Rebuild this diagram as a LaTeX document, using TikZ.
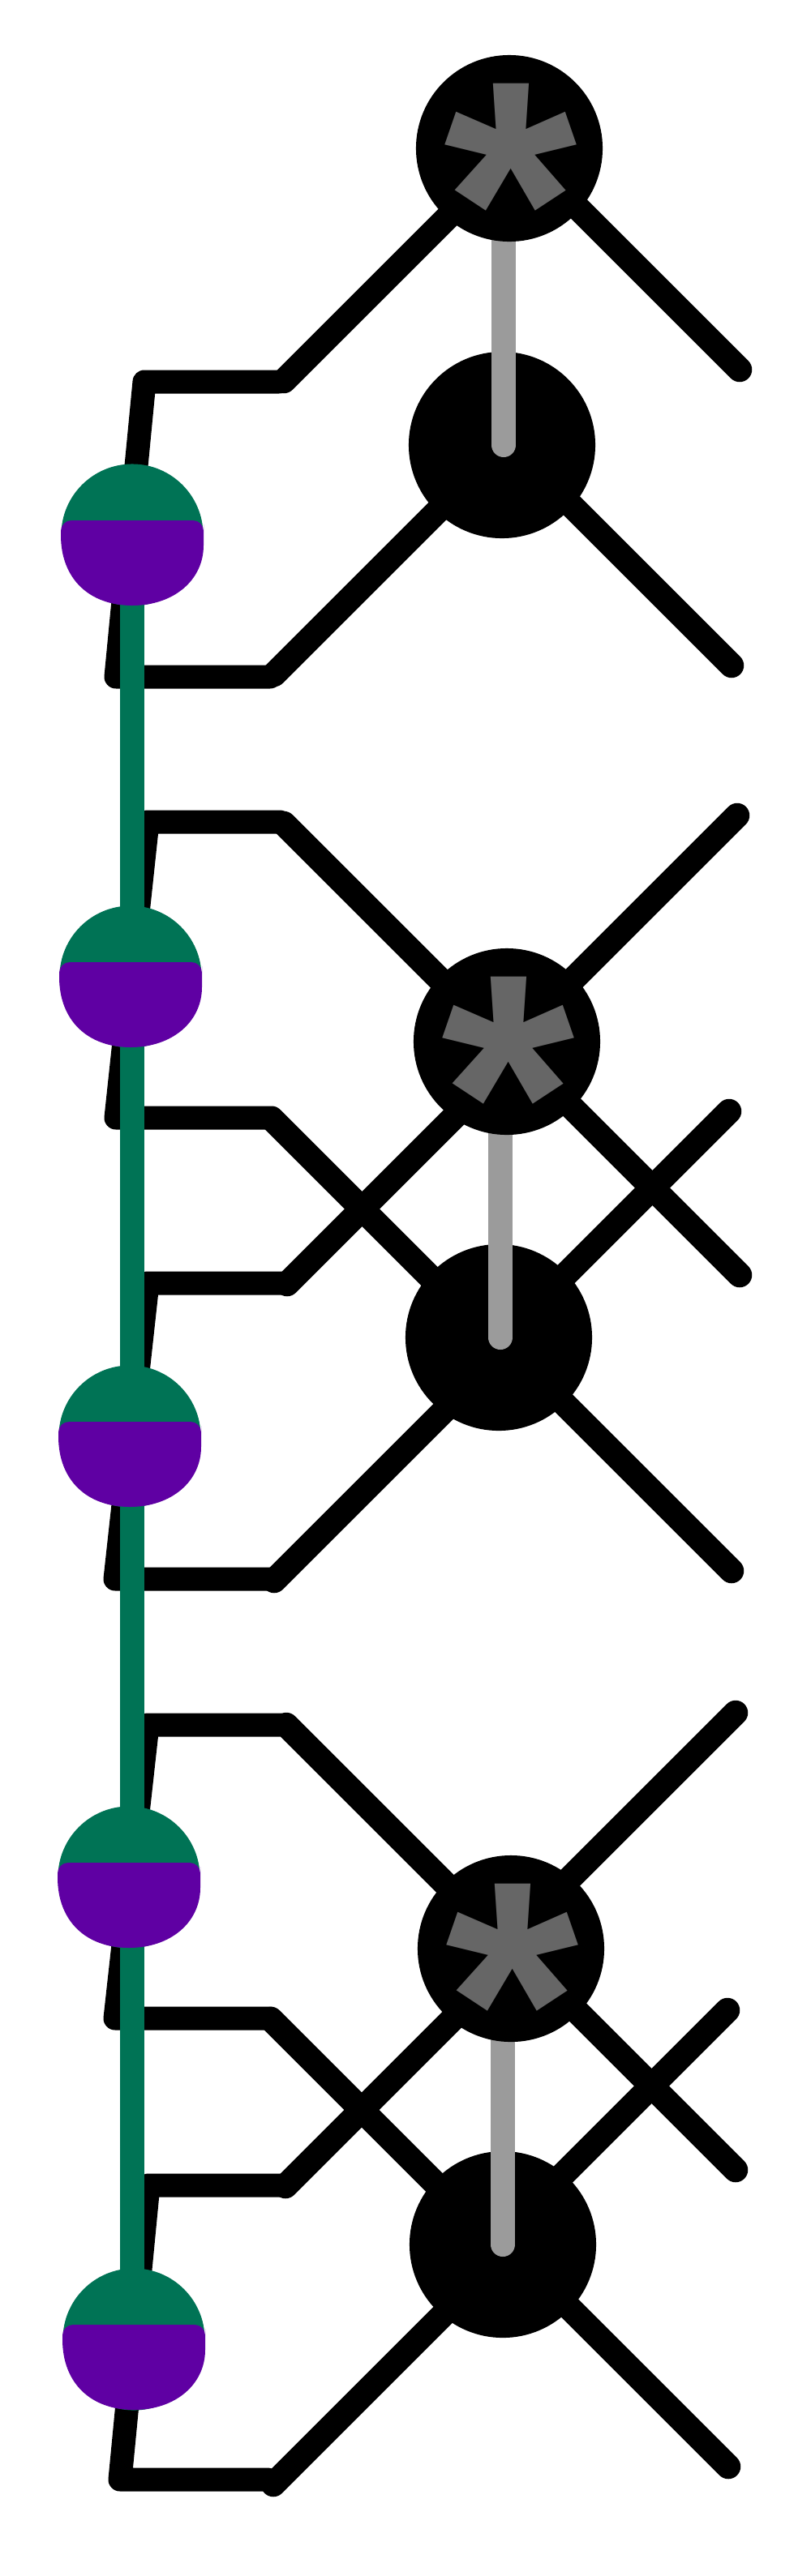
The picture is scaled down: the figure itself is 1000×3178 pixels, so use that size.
\documentclass[tikz,border=0pt]{standalone}
\usepackage{fontspec}
\setmainfont{Liberation Sans}
\usepackage{xcolor}
\usepackage{tikz}
\definecolor{ballgreen}{RGB}{0,115,85}
\definecolor{ballpurple}{RGB}{95,0,163}
\definecolor{bargray}{RGB}{155,155,155}
\definecolor{stargray}{RGB}{102,102,102}
\pgfdeclarelayer{wires}
\pgfdeclarelayer{bars}
\pgfsetlayers{wires,bars,main}
\tikzset{
    wire/.style={draw=black,line width=0.29cm,line cap=round,line join=round},
    leg/.style={draw=black,line width=0.305cm,line cap=round},
    bar/.style={draw=bargray,line width=0.3cm,line cap=round},
    rail/.style={draw=ballgreen,line width=0.3cm},
    blackdot/.style={circle,fill=black,inner sep=0pt,minimum size=2.3cm},
    stardot/.style={blackdot},
    ball/.style={circle,fill=ballgreen,inner sep=0pt,minimum size=1.75cm},
    starmark/.style={inner sep=0pt,text=stargray,font=\bfseries\fontsize{120pt}{120pt}\selectfont}
}
% lower half of a ball
\newcommand{\ballcap}[1]{
    \fill[ballpurple,rounded corners=0.13cm] ([shift={(-88,0)}]#1.center) -- ([shift={(-88,-18)}]#1.center)
        -- ([shift={(88,-18)}]#1.center) -- ([shift={(88,0)}]#1.center) [sharp corners]
        .. controls ([shift={(88,55)}]#1.center) and ([shift={(52,87)}]#1.center) .. ([shift={(0,87)}]#1.center)
        .. controls ([shift={(-52,87)}]#1.center) and ([shift={(-88,55)}]#1.center) .. ([shift={(-88,0)}]#1.center) -- cycle;
}

\begin{document}
\begin{tikzpicture}[x=0.01cm,y=-0.01cm]
    \useasboundingbox (0,0) rectangle (1000,3178);

    \node[stardot] (S1) at (628,183) {};
    \node[stardot] (S2) at (625,1285) {};
    \node[stardot] (S3) at (630,2404) {};
    \node[starmark] (M1) at (630,248) {*};
    \node[starmark] (M2) at (627,1350) {*};
    \node[starmark] (M3) at (632,2469) {*};

    \node[ball] (G1) at (163,660) {};
    \node[ball] (G2) at (161,1205) {};
    \node[ball] (G3) at (160,1772) {};
    \node[ball] (G4) at (159,2316) {};
    \node[ball] (G5) at (165,2886) {};
    \ballcap{G1}
    \ballcap{G2}
    \ballcap{G3}
    \ballcap{G4}
    \ballcap{G5}

    % bends of the wires
    \coordinate (a1) at (350,470);
    \coordinate (a2) at (344,471);
    \coordinate (a3) at (178,471);
    \coordinate (a4) at (143,835);
    \coordinate (a5) at (333,835);
    \coordinate (a6) at (338,832);
    \coordinate (b1) at (350,1016);
    \coordinate (b2) at (345,1014);
    \coordinate (b3) at (182,1014);
    \coordinate (b4) at (143,1379);
    \coordinate (b5) at (335,1379);
    \coordinate (b6) at (336,1381);
    \coordinate (c1) at (354,1584);
    \coordinate (c2) at (347,1583);
    \coordinate (c3) at (182,1583);
    \coordinate (c4) at (142,1948);
    \coordinate (c5) at (332,1948);
    \coordinate (c6) at (338,1950);
    \coordinate (d1) at (353,2128);
    \coordinate (d2) at (345,2128);
    \coordinate (d3) at (182,2128);
    \coordinate (d4) at (142,2490);
    \coordinate (d5) at (333,2490);
    \coordinate (d6) at (334,2491);
    \coordinate (e1) at (352,2697);
    \coordinate (e2) at (345,2696);
    \coordinate (e3) at (183,2696);
    \coordinate (e4) at (148,3059);
    \coordinate (e5) at (330,3059);
    \coordinate (e6) at (337,3065);

    % free ends on the right
    \coordinate (r1) at (912,456);
    \coordinate (r2) at (902,821);
    \coordinate (r3) at (909,1006);
    \coordinate (r4) at (912,1573);
    \coordinate (r5) at (899,1371);
    \coordinate (r6) at (902,1938);
    \coordinate (r7) at (907,2113);
    \coordinate (r8) at (907,2677);
    \coordinate (r9) at (897,2480);
    \coordinate (r10) at (898,3043);

    \begin{pgfonlayer}{wires}
        \fill[white] (0,0) rectangle (1000,3178);
        \node[blackdot] (B1) at (619,549) {};
        \node[blackdot] (B2) at (615,1650) {};
        \node[blackdot] (B3) at (620,2769) {};

        \draw[leg] ([shift={(-8,17)}]S1.center) -- (a1);
        \draw[wire] (a2) -- (a3) -- (a4) -- (a5);
        \draw[leg] ([shift={(1,1)}]B1.center) -- (a6);
        \draw[leg] ([shift={(0,6)}]S2.center) -- (b1);
        \draw[wire] (b2) -- (b3) -- (b4) -- (b5);
        \draw[leg] ([shift={(0,10)}]B2.center) -- (b6);
        \draw[leg] ([shift={(15,13)}]S2.center) -- (c1);
        \draw[wire] (c2) -- (c3) -- (c4) -- (c5);
        \draw[leg] ([shift={(5,18)}]B2.center) -- (c6);
        \draw[leg] ([shift={(0,1)}]S3.center) -- (d1);
        \draw[wire] (d2) -- (d3) -- (d4) -- (d5);
        \draw[leg] ([shift={(0,8)}]B3.center) -- (d6);
        \draw[leg] ([shift={(10,5)}]S3.center) -- (e1);
        \draw[wire] (e2) -- (e3) -- (e4) -- (e5);
        \draw[leg] ([shift={(5,8)}]B3.center) -- (e6);

        \draw[leg] ([shift={(12,1)}]S1.center) -- (r1);
        \draw[leg] ([shift={(6,-5)}]B1.center) -- (r2);
        \draw[leg] ([shift={(0,5)}]S2.center) -- (r3);
        \draw[leg] ([shift={(0,1)}]S2.center) -- (r4);
        \draw[leg] ([shift={(0,5)}]B2.center) -- (r5);
        \draw[leg] ([shift={(0,1)}]B2.center) -- (r6);
        \draw[leg] ([shift={(0,-14)}]S3.center) -- (r7);
        \draw[leg] ([shift={(0,-4)}]S3.center) -- (r8);
        \draw[leg] ([shift={(0,-12)}]B3.center) -- (r9);
        \draw[leg] ([shift={(0,-4)}]B3.center) -- (r10);
    \end{pgfonlayer}

    \begin{pgfonlayer}{bars}
        \draw[bar] ([shift={(-7,0)}]S1.center) -- ([shift={(2,0)}]B1.center);
        \draw[bar] ([shift={(-8,0)}]S2.center) -- ([shift={(2,0)}]B2.center);
        \draw[bar] ([shift={(-10,0)}]S3.center) -- (B3.center);
        \draw[rail] (G1.center) -- (G1|-G5);
    \end{pgfonlayer}
\end{tikzpicture}
\end{document}
